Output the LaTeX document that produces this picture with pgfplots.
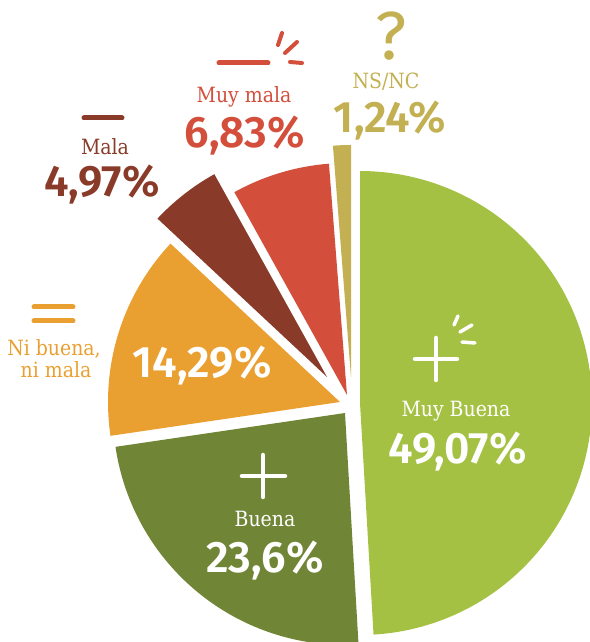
\documentclass[border=0pt]{standalone}
\usepackage{pgfplots}
\pgfplotsset{compat=1.18}
\usepackage{fontspec}
\setmainfont{Fira Sans}
\newfontfamily\slab{DejaVu Serif Condensed}
\newfontfamily\semib{Fira Sans SemiBold}

\definecolor{cMB}{HTML}{A5C144}
\definecolor{cB}{HTML}{718536}
\definecolor{cN}{HTML}{EAA031}
\definecolor{cM}{HTML}{8A3A28}
\definecolor{cMM}{HTML}{D34E3B}
\definecolor{cNS}{HTML}{C2B052}

\newcommand\pieR{232}
% #1 share before, #2 share, #3 #4 vertex (exploded), #5 colour
\newcommand\slice[5]{%
  \addplot[fill=#5, draw=none, domain={90-3.6*(#1+#2)}:{90-3.6*#1}, samples=120, variable=\t]
    ({#3+\pieR*cos(\t)},{#4+\pieR*sin(\t)}) -- (axis cs:#3,#4) -- cycle;
}
\newcommand\lab[1]{\slab\fontsize{21bp}{24bp}\selectfont #1}
\newcommand\pct[1]{\semib\fontsize{44bp}{46bp}\selectfont #1}

\begin{document}
\begin{tikzpicture}
\begin{axis}[
    width=590bp, height=642bp, scale only axis,
    xmin=0, xmax=590, ymin=0, ymax=642,
    hide axis, clip=true,
    every node/.append style={inner sep=0pt},
]
\slice{0}{49.07}{360}{239}{cMB}
\slice{49.07}{23.6}{345}{229}{cB}
\slice{72.67}{14.29}{340}{240}{cN}
\slice{86.96}{4.97}{327}{265}{cM}
\slice{91.93}{6.83}{347}{247}{cMM}
\slice{98.76}{1.24}{351}{265}{cNS}

% Muy Buena
\draw[white, line width=4.5bp, line cap=round] (axis cs:415,283) -- (axis cs:457,283) (axis cs:436,262) -- (axis cs:436,304);
\draw[white, line width=3.5bp, line cap=round] (axis cs:458,326) -- (axis cs:454,317) (axis cs:472,317) -- (axis cs:460,310) (axis cs:462,300) -- (axis cs:475,299);
\node[white, anchor=base] at (axis cs:456,225) {\lab{Muy Buena}};
\node[white, anchor=base] at (axis cs:458,178) {\pct{49,07\%}};

% Buena
\draw[white, line width=4.5bp, line cap=round] (axis cs:242,166) -- (axis cs:285,166) (axis cs:263,145) -- (axis cs:263,187);
\node[white, anchor=base] at (axis cs:265,115) {\lab{Buena}};
\node[white, anchor=base] at (axis cs:265,69) {\pct{23,6\%}};

% Ni buena, ni mala
\draw[cN, line width=5bp, line cap=round] (axis cs:34,335) -- (axis cs:73,335) (axis cs:34,321) -- (axis cs:73,321);
\node[cN, anchor=base] at (axis cs:54,286) {\lab{Ni buena,}};
\node[cN, anchor=base] at (axis cs:56,264) {\lab{ni mala}};
\node[white, anchor=base] at (axis cs:202,264) {\pct{14,29\%}};

% Mala
\draw[cM, line width=5bp, line cap=round] (axis cs:84,524) -- (axis cs:122,524);
\node[cM, anchor=base] at (axis cs:105,487) {\lab{Mala}};
\node[cM, anchor=base] at (axis cs:102,445) {\pct{4,97\%}};

% Muy mala
\draw[cMM, line width=5bp, line cap=round] (axis cs:219,579) -- (axis cs:268,579);
\draw[cMM, line width=4bp, line cap=round] (axis cs:282,609) -- (axis cs:278,597) (axis cs:297,600) -- (axis cs:285,589) (axis cs:290,580) -- (axis cs:302,579);
\node[cMM, anchor=base] at (axis cs:244,539) {\lab{Muy mala}};
\node[cMM, anchor=base] at (axis cs:245,494) {\pct{6,83\%}};

% NS/NC
\node[cNS, anchor=base] at (axis cs:391,582) {\fontsize{68bp}{70bp}\selectfont ?};
\node[cNS, anchor=base] at (axis cs:386,553) {\lab{NS/NC}};
\node[cNS, anchor=base] at (axis cs:390,509) {\pct{1,24\%}};
\end{axis}
\pgfresetboundingbox
\path[use as bounding box] (current axis.south west) rectangle (current axis.north east);
\end{tikzpicture}
\end{document}
